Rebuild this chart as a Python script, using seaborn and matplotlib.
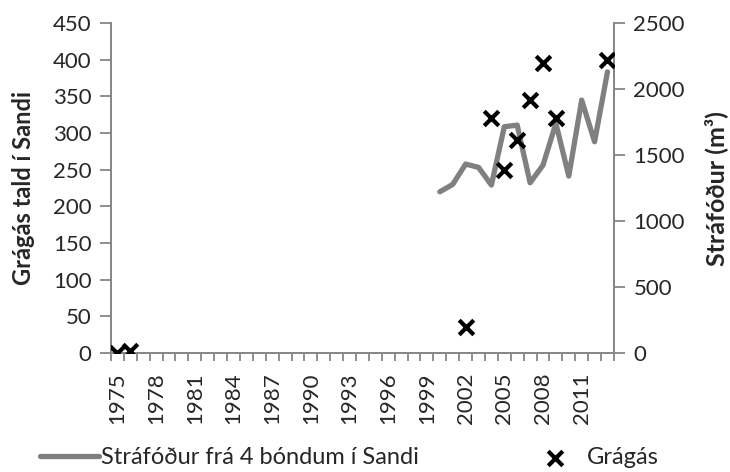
import numpy as np
import pandas as pd
import matplotlib
matplotlib.use("Agg")
import matplotlib.pyplot as plt
import seaborn as sns

years_geese = [1975, 1976, 2002, 2004, 2005, 2006, 2007, 2008, 2009, 2013]
geese = [0, 3, 35, 321, 250, 290, 345, 396, 321, 400]

years_feed = [2000, 2001, 2002, 2003, 2004, 2005, 2006, 2007, 2008, 2009,
              2010, 2011, 2012, 2013]
feed = [1222, 1278, 1432, 1407, 1273, 1715, 1727, 1290, 1424, 1740,
        1341, 1917, 1601, 2131]

first_year, last_year = 1975, 2013

sns.set_theme(style="white")
plt.rcParams['font.family'] = ['Lato', 'DejaVu Sans']

df_g = pd.DataFrame({"year": years_geese, "count": geese})
df_f = pd.DataFrame({"year": years_feed, "feed": feed})

axis_col = "#868686"
fig = plt.figure(figsize=(7.3, 4.72), dpi=100)
ax = fig.add_axes([0.152, 0.252, 0.689, 0.699])
ax2 = ax.twinx()

sns.lineplot(data=df_f, x="year", y="feed", ax=ax2, color="#808080",
             linewidth=3.8, label="Stráfóður frá 4 bóndum í Sandi",
             legend=False)
sns.scatterplot(data=df_g, x="year", y="count", ax=ax, marker="x",
                color="black", s=110, linewidth=3, label="Grágás",
                legend=False, zorder=5)

# markers above the line
ax.set_zorder(ax2.get_zorder() + 1)
ax.patch.set_visible(False)

ax.set_xlim(first_year - 0.5, last_year + 0.5)
ax.set_ylim(0, 450)
ax2.set_ylim(0, 2500)
ax.set_yticks(np.arange(0, 451, 50))
ax2.set_yticks(np.arange(0, 2501, 500))
ax.set_xticks(np.arange(first_year, 2012, 3))
ax.set_xticklabels([str(y) for y in range(first_year, 2012, 3)], rotation=90)
ax.set_xticks(np.arange(first_year - 0.5, last_year + 1, 1), minor=True)

for a in (ax, ax2):
    for s in a.spines.values():
        s.set_color(axis_col)
        s.set_linewidth(1.3)
    a.spines["top"].set_visible(False)
    a.set_xlabel("")

ax.tick_params(axis="y", which="major", length=8, width=1.3, color=axis_col,
               labelsize=16, pad=6, left=True)
ax.tick_params(axis="x", which="major", length=0, labelsize=16, pad=14)
ax.tick_params(axis="x", which="minor", length=6, width=1.3, color=axis_col,
               bottom=True)
ax2.tick_params(axis="y", which="major", length=8, width=1.3, color=axis_col,
                labelsize=16, pad=6, right=True)

ax.set_ylabel("Grágás tald í Sandi", fontsize=17, fontweight="bold", labelpad=13)
ax2.set_ylabel("Stráfóður (m³)", fontsize=18, fontweight="bold", labelpad=14)

h1, l1 = ax2.get_legend_handles_labels()
h2, l2 = ax.get_legend_handles_labels()
fig.legend(h1 + h2, l1 + l2, loc="center", bbox_to_anchor=(0.478, 0.03),
           ncol=2, frameon=False, fontsize=17, handlelength=2.5,
           handletextpad=0.1, columnspacing=4.5)

fig.savefig("out.png", dpi=100)
